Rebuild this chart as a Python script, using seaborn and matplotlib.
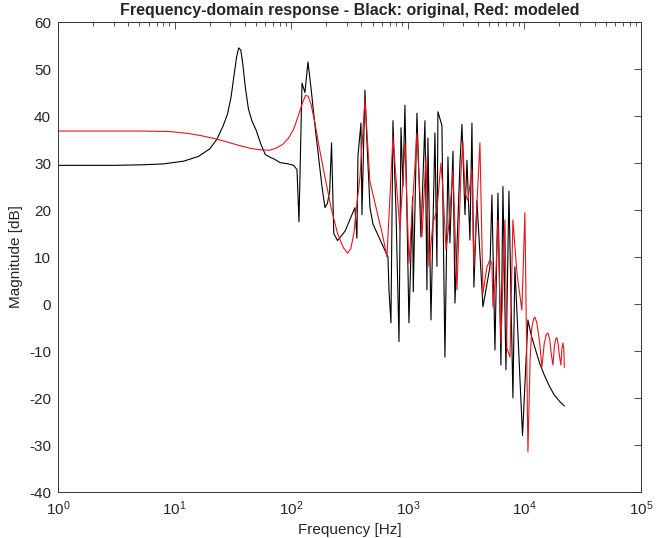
import matplotlib
matplotlib.use("Agg")
import matplotlib.pyplot as plt
import seaborn as sns
import pandas as pd
import numpy as np
from matplotlib.ticker import LogLocator, FixedLocator, NullFormatter

# ---- data ----
orig_freq = [1, 3, 5, 8, 12, 16, 20, 23, 26, 28.5, 30.5, 32.5, 34, 35.5, 37, 38.5, 40.5,
             43, 46, 50, 55, 60, 65, 72, 80, 95, 105, 112.2, 116.7, 123.9, 131.3, 139.4,
             147.9, 163.3, 183.8, 195, 205, 214, 222, 232, 250, 290, 352.2, 366.4,
             374, 397, 404.8, 429.5, 446.7, 474.2, 503.4, 676.5, 690.2, 717.7, 746.5,
             792.5, 841.4, 875, 910, 946.4, 1024, 1100, 1115, 1199, 1297, 1405, 1461,
             1490, 1582, 1711, 1780, 1815, 1964, 2084, 2213, 2301, 2444, 2541, 2805,
             2917, 3097, 3220, 3415, 3553, 3694, 3921, 4416, 5072, 5274, 5596, 5940,
             6301, 6553, 6954, 7380, 7982, 8302, 9650, 10738, 11500, 12500, 13615,
             15000, 16500, 18000, 20000, 22050]
orig_db = [29.5, 29.5, 29.6, 29.8, 30.4, 31.4, 33.0, 35.0, 37.8, 40.5, 44.0, 49.0, 52.5,
           54.5, 54.0, 51.0, 46.0, 41.5, 39.0, 37.0, 34.0, 31.8, 31.3, 30.8, 30.1, 29.8,
           29.5, 28.6, 17.5, 47.0, 45.0, 51.5, 46.0, 36.0, 25.0, 20.5, 21.5, 24.0, 34.3,
           15.0, 13.5, 15.5, 20.5, 14.0, 31.5, 38.5, 19.0, 45.5, 34.5, 20.5, 17.0,
           10.0, 3.0, -4.0, 39.0, 20.0, -8.0, 37.5, 25.0, 42.3, -4.0, 22.8, 2.6,
           40.6, 14.3, 39.0, 3.0, 35.3, -3.4, 36.4, 8.0, 40.9, 38.0, -11.3, 31.3,
           13.0, 32.5, 0.2, 30.0, 38.2, 19.0, 30.6, 13.6, 38.5, 3.6, 22.0, -0.6, 7.9,
           23.2, -9.8, 23.6, -13.0, 25.0, -14.0, 24.0, -20.0, 7.9, -28.0, -3.4, -6.8,
           -9.8, -12.8, -15.4, -17.6, -19.3, -20.7, -21.7]

model_freq = [1, 5, 9, 13, 17, 22, 28, 35, 45, 55, 65, 75, 85, 95, 105, 115, 125, 133,
              140, 148, 160, 175, 195, 220, 250, 280, 305, 325, 345, 365, 389.2, 429.5,
              474.2, 612.7, 663.2, 746.5, 857, 946.4, 1024, 1199, 1325, 1432, 1520,
              1645, 1780, 1926, 2004, 2128, 2256, 2444, 2643, 2858, 2972, 3097, 3281,
              3553, 3694, 4160, 4416, 4780, 5072, 5274, 5380, 5705, 5940, 6301, 6817,
              7092, 7530, 7982, 8645, 9525, 10113, 10738, 11200, 11600, 12000, 12331,
              12800, 13500, 14164, 14800, 15400, 15931, 16500, 17000, 17597, 18100,
              18600, 19043, 19500, 20000, 20601, 21000, 21400, 21800, 22050]
model_db = [36.8, 36.8, 36.7, 36.3, 35.8, 35.2, 34.5, 33.8, 33.1, 32.8, 32.7, 33.2, 34.0,
            35.3, 37.2, 40.0, 42.8, 44.4, 44.2, 42.5, 38.5, 33.0, 27.0, 20.5, 15.0,
            12.0, 10.8, 11.8, 15.0, 21.0, 27.0, 43.5, 26.0, 14.3, 10.0, 35.5, 15.7,
            34.3, 8.7, 36.4, 14.3, 31.3, 8.0, 17.2, 20.0, 30.0, 24.3, 11.5, 17.0,
            28.5, 3.0, 27.9, 34.5, 23.6, 22.0, 28.5, 7.9, 34.3, 2.3, 7.9, 9.4, 8.7,
            -0.6, 6.6, 17.9, -8.3, 17.9, -9.4, -11.3, 17.9, 6.6, -1.3, 19.4, -31.5,
            -12.0, -5.0, -3.2, -2.8, -4.0, -8.0, -13.4, -8.5, -6.5, -6.2, -7.5, -10.5,
            -13.0, -9.0, -7.4, -7.2, -8.5, -11.0, -13.0, -9.5, -8.3, -9.5, -13.5]

xticks = [1, 10, 100, 1000, 10000, 100000]
xtick_labels = ["$10^{0}$", "$10^{1}$", "$10^{2}$", "$10^{3}$", "$10^{4}$", "$10^{5}$"]
yticks = [-40, -30, -20, -10, 0, 10, 20, 30, 40, 50, 60]

df_orig = pd.DataFrame({"Frequency": orig_freq, "Magnitude": orig_db})
df_model = pd.DataFrame({"Frequency": model_freq, "Magnitude": model_db})

sns.set_style("white")
plt.rcParams['font.family'] = ['Liberation Sans', 'DejaVu Sans']
plt.rcParams['mathtext.fontset'] = 'custom'
plt.rcParams['mathtext.rm'] = 'Liberation Sans'
plt.rcParams['mathtext.it'] = 'Liberation Sans'

fig = plt.figure(figsize=(6.56, 5.38), dpi=100)
ax = fig.add_axes([0.0884, 0.0855, 0.8886, 0.8736])

sns.lineplot(data=df_orig, x="Frequency", y="Magnitude", color="black", lw=0.8,
             estimator=None, ax=ax)
sns.lineplot(data=df_model, x="Frequency", y="Magnitude", color="#e8141a", lw=0.8,
             estimator=None, ax=ax)

ax.set_xscale("log")
ax.set_xlim(1, 1e5)
ax.set_ylim(-40, 60)
ax.xaxis.set_major_locator(FixedLocator(xticks))
ax.set_xticklabels(xtick_labels, fontsize=11)
ax.xaxis.set_minor_locator(LogLocator(base=10, subs=np.arange(2, 10), numticks=20))
ax.xaxis.set_minor_formatter(NullFormatter())
ax.set_yticks(yticks)
ax.set_yticklabels([str(v) for v in yticks], fontsize=11)

ax.tick_params(which="both", direction="in", top=True, right=True, color="#333333", width=0.6)
ax.tick_params(which="major", length=5, pad=5)
ax.tick_params(which="minor", length=3)
for s in ax.spines.values():
    s.set_color("#333333")
    s.set_linewidth(0.7)

ax.set_xlabel("Frequency [Hz]", fontsize=11)
ax.set_ylabel("Magnitude [dB]", fontsize=11)
ax.set_title("Frequency-domain response - Black: original, Red: modeled",
             fontsize=11.5, fontweight="bold", pad=5)

fig.savefig("out.png", dpi=100)
